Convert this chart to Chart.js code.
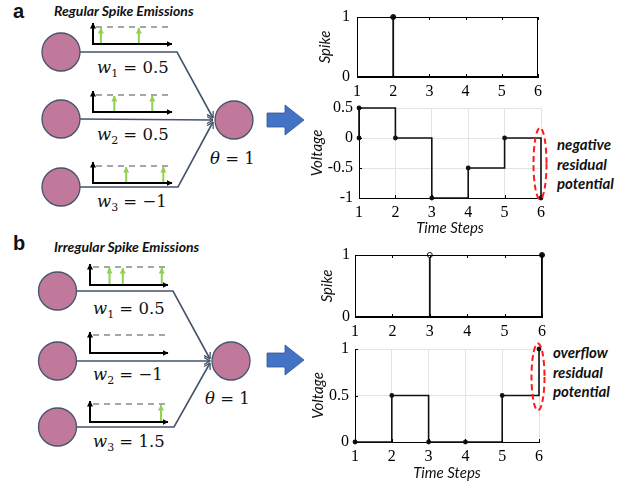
<!DOCTYPE html>
<html><head><meta charset="utf-8">
<script src="https://cdn.jsdelivr.net/npm/chart.js@4.4.1/dist/chart.umd.min.js"></script>
<style>
html,body{margin:0;padding:0;background:#fff;}
#root{position:relative;width:635px;height:487px;overflow:hidden;background:#fff;}
canvas{position:absolute;}
svg{position:absolute;left:0;top:0;}
.note{position:absolute;font-family:Lato,sans-serif;font-weight:bold;font-style:italic;font-size:15px;line-height:19.5px;color:#111;white-space:nowrap;}
.ttl{position:absolute;font-family:Lato,sans-serif;font-weight:bold;font-style:italic;font-size:14px;color:#111;white-space:nowrap;}
.pl{position:absolute;font-family:"Liberation Sans",sans-serif;font-weight:bold;font-size:20px;color:#111;}
</style></head>
<body><div id="root">
<svg id="diag" width="635" height="487" xmlns="http://www.w3.org/2000/svg"></svg>
<div class="pl" style="left:13px;top:0px;">a</div>
<div class="pl" style="left:13px;top:232px;">b</div>
<div class="ttl" style="left:54px;top:2px;">Regular Spike Emissions</div>
<div class="ttl" style="left:54px;top:238px;">Irregular Spike Emissions</div>
<div class="note" style="left:557px;top:135px;">negative<br>residual<br>potential</div>
<div class="note" style="left:553px;top:343px;">overflow<br>residual<br>potential</div>
<canvas id="cA1"></canvas>
<canvas id="cA2"></canvas>
<canvas id="cB1"></canvas>
<canvas id="cB2"></canvas>
</div>
<script>
// ---------------- data ----------------
const timeSteps   = [1, 2, 3, 4, 5, 6];
const spikeOutA   = [0, 1, 0, 0, 0, 0];
const spikeOutB   = [0, 0, 1, 0, 0, 1];
const spikeHollowB = [false, false, true, false, false, false];
const voltA_t     = [1, 1, 2, 3, 4, 5, 6];
const voltA_v     = [0, 0.5, 0, -1, -0.5, 0, -1];
const voltB_t     = [1, 2, 3, 4, 5, 6];
const voltB_v     = [0, 0.5, 0, 0, 0.5, 1];
const voltRangeA  = [-1, 0.5];
const voltRangeB  = [0, 1];
const residualA   = [-1.02, 0.17];   // span of the highlighted residual (voltage units)
const residualB   = [0.34, 1.06];
const weightsA    = ['0.5', '0.5', '\u22121'];
const weightsB    = ['0.5', '\u22121', '1.5'];
const thetaA = '1', thetaB = '1';
// input spike trains (fraction of icon time axis)
const inputSpikesA = [[0.10, 0.58], [0.27, 0.75], [0.42, 0.89]];
const inputSpikesB = [[0.25, 0.42, 0.92], [], [0.91]];

// ---------------- diagram (SVG) ----------------
const NS = 'http://www.w3.org/2000/svg';
const svg = document.getElementById('diag');
function el(tag, attrs, parent) {
  const e = document.createElementNS(NS, tag);
  for (const k in attrs) e.setAttribute(k, attrs[k]);
  (parent || svg).appendChild(e);
  return e;
}
const defs = el('defs', {});
function marker(id, color, w, h, filled) {
  const m = el('marker', {id, markerWidth: w, markerHeight: h, refX: w - 0.5, refY: h / 2, orient: 'auto', markerUnits: 'userSpaceOnUse'}, defs);
  if (filled) el('path', {d: `M0,0 L${w},${h/2} L0,${h} Z`, fill: color}, m);
  else el('path', {d: `M0.5,0.5 L${w-0.5},${h/2} L0.5,${h-0.5}`, fill: 'none', stroke: color, 'stroke-width': 1.3}, m);
}
marker('mBlack', '#000', 6, 6, true);
marker('mGreen', '#92D050', 6, 6, true);
marker('mSlate', '#44546A', 7, 8, false);

function panel(P) {
  const conv = P.conv;
  P.ins.forEach((c, i) => {
    let d;
    if (i === 0) d = `M${c[0]+P.r},${c[1]} L${P.bendTop},${c[1]} L${conv[0]},${conv[1]-2}`;
    else if (i === 1) d = `M${c[0]+P.r},${c[1]} L${conv[0]},${conv[1]}`;
    else d = `M${c[0]+P.r},${c[1]} L${P.bendBot},${c[1]} L${conv[0]},${conv[1]+2}`;
    el('path', {d, fill: 'none', stroke: '#44546A', 'stroke-width': 1.6, 'marker-end': 'url(#mSlate)'});
  });
  [...P.ins, P.out].forEach(c => el('circle', {cx: c[0], cy: c[1], r: P.r, fill: '#C0789B', stroke: '#44546A', 'stroke-width': 1.3}));
  P.icons.forEach((o, i) => {
    const [ox, oy] = o;
    el('line', {x1: ox + 3, y1: oy - P.dash, x2: ox + P.iw + 1, y2: oy - P.dash, stroke: '#A6A6A6', 'stroke-width': 2, 'stroke-dasharray': '6,5'});
    el('line', {x1: ox, y1: oy + 1, x2: ox, y2: oy - 21, stroke: '#000', 'stroke-width': 2, 'marker-end': 'url(#mBlack)'});
    el('line', {x1: ox - 1, y1: oy, x2: ox + P.iw, y2: oy, stroke: '#000', 'stroke-width': 2, 'marker-end': 'url(#mBlack)'});
    P.spikes[i].forEach(f => {
      const x = ox + f * P.iw;
      el('line', {x1: x, y1: oy - 1, x2: x, y2: oy - P.dash + 1, stroke: '#92D050', 'stroke-width': 2, 'marker-end': 'url(#mGreen)'});
    });
  });
  P.weights.forEach((w, i) => {
    const t = el('text', {x: P.lblX, y: P.lblY[i], 'font-family': 'DejaVu Serif', 'font-size': 16.5, fill: '#111'});
    const a = el('tspan', {'font-style': 'italic'}, t); a.textContent = 'w';
    const s = el('tspan', {'font-size': 11, dy: 4}, t); s.textContent = String(i + 1);
    const r = el('tspan', {dy: -4}, t); r.textContent = ' = ' + w;
  });
  const th = el('text', {x: P.thX, y: P.thY, 'font-family': 'DejaVu Serif', 'font-size': 16.5, fill: '#111'});
  const ta = el('tspan', {'font-style': 'italic'}, th); ta.textContent = '\u03b8';
  const tb = el('tspan', {}, th); tb.textContent = ' = ' + P.theta;
  const [ax, ay] = P.arrow;
  el('path', {d: `M${ax},${ay-7} L${ax+18},${ay-7} L${ax+18},${ay-15} L${ax+37},${ay} L${ax+18},${ay+15} L${ax+18},${ay+7} L${ax},${ay+7} Z`, fill: '#4472C4', stroke: '#2F5597', 'stroke-width': 0.8});
}

panel({
  ins: [[61, 52], [61, 119], [61, 187]], out: [234, 120], r: 19,
  conv: [213, 120], bendTop: 177, bendBot: 178,
  icons: [[93, 44], [93, 112], [93, 183]], iw: 79, dash: 17, spikes: inputSpikesA,
  weights: weightsA, lblX: 97, lblY: [73, 140, 207], thX: 210, thY: 164, theta: thetaA,
  arrow: [267, 120]
});
panel({
  ins: [[57.5, 291], [57.5, 361], [57.5, 427]], out: [231, 361], r: 19,
  conv: [210, 361], bendTop: 173, bendBot: 174,
  icons: [[90, 285], [90, 353], [90, 422]], iw: 78, dash: 18, spikes: inputSpikesB,
  weights: weightsB, lblX: 93, lblY: [314, 380, 447], thX: 205, thY: 404, theta: thetaB,
  arrow: [267, 360]
});

// ---------------- charts ----------------
const tickFont = {family: '"Liberation Serif", "Times New Roman", serif', size: 16};
const axisTitleFont = {family: 'Lato', size: 15, style: 'italic'};

const boxPlugin = {
  id: 'boxFrame',
  afterDraw(chart, args, opts) {
    const {ctx, chartArea: a, scales} = chart;
    ctx.save();
    ctx.strokeStyle = '#000';
    ctx.lineWidth = 1;
    if (opts.full) ctx.strokeRect(a.left + 0.5, a.top + 0.5, a.right - a.left - 1, a.bottom - a.top - 1);
    ctx.beginPath();
    scales.x.ticks.forEach(t => {
      const px = Math.round(scales.x.getPixelForValue(t.value)) + 0.5;
      ctx.moveTo(px, a.bottom); ctx.lineTo(px, a.bottom - 3);
      if (opts.full) { ctx.moveTo(px, a.top); ctx.lineTo(px, a.top + 3); }
    });
    scales.y.ticks.forEach(t => {
      const py = Math.round(scales.y.getPixelForValue(t.value)) + 0.5;
      ctx.moveTo(a.left, py); ctx.lineTo(a.left + 3, py);
      if (opts.full) { ctx.moveTo(a.right, py); ctx.lineTo(a.right - 3, py); }
    });
    ctx.stroke();
    if (opts.ellipse) {
      const [lo, hi] = opts.ellipse;
      const cx = scales.x.getPixelForValue(6) - 1;
      const y1 = scales.y.getPixelForValue(hi), y2 = scales.y.getPixelForValue(lo);
      ctx.beginPath();
      ctx.setLineDash([6, 3.5]);
      ctx.strokeStyle = '#FF1A1A';
      ctx.lineWidth = 2;
      ctx.ellipse(cx, (y1 + y2) / 2, 6.5, Math.abs(y2 - y1) / 2, 0, 0, Math.PI * 2);
      ctx.stroke();
    }
    ctx.restore();
  }
};

function makeChart(id, box, plot, opt) {
  const cv = document.getElementById(id);
  cv.width = box.w; cv.height = box.h;
  cv.style.left = box.l + 'px'; cv.style.top = box.t + 'px';
  cv.style.width = box.w + 'px'; cv.style.height = box.h + 'px';
  const yW = plot.l - box.l, xH = box.t + box.h - plot.b;
  return new Chart(cv, {
    type: 'scatter',
    data: {datasets: opt.datasets},
    plugins: [boxPlugin],
    options: {
      responsive: false, animation: false, devicePixelRatio: 1,
      layout: {padding: {left: 0, top: plot.t - box.t, right: box.l + box.w - plot.r, bottom: 0}},
      plugins: {legend: {display: false}, tooltip: {enabled: false}, boxFrame: {full: opt.full, ellipse: opt.ellipse}},
      scales: {
        x: {
          type: 'linear', min: 1, max: 6,
          ticks: {stepSize: 1, padding: opt.xPad, font: tickFont, color: '#000', maxRotation: 0},
          grid: {display: opt.grid, color: '#E3E3E3', drawTicks: false},
          border: {display: true, color: '#000', width: 1},
          title: {display: !!opt.xTitle, text: opt.xTitle || '', font: axisTitleFont, color: '#111', padding: {top: 0, bottom: opt.xTitlePad || 0}},
          afterFit: s => { s.height = xH; s.paddingLeft = 0; s.paddingRight = 0; }
        },
        y: {
          type: 'linear', min: opt.yRange[0], max: opt.yRange[1],
          ticks: {stepSize: opt.yStep, padding: opt.yPad, font: tickFont, color: '#000', callback: v => String(v)},
          grid: {display: opt.grid, color: '#E3E3E3', drawTicks: false},
          border: {display: true, color: '#000', width: 1},
          title: {display: true, text: opt.yTitle, font: axisTitleFont, color: '#111', padding: {top: opt.yTitlePad, bottom: 0}},
          afterFit: s => { s.width = yW; s.paddingTop = 0; s.paddingBottom = 0; }
        }
      }
    }
  });
}

function stemSets(values, hollow) {
  const sets = [];
  values.forEach((v, i) => {
    if (!v) return;
    const t = timeSteps[i];
    sets.push({
      data: [{x: t, y: 0}, {x: t, y: v}],
      showLine: true, borderColor: '#111', borderWidth: 1.8,
      pointRadius: [0, 2.5], pointBorderColor: '#111', pointBorderWidth: 1,
      pointBackgroundColor: hollow && hollow[i] ? '#fff' : '#111',
      clip: false
    });
  });
  return sets;
}
function stepSet(ts, vs) {
  return [{
    data: ts.map((t, i) => ({x: t, y: vs[i]})),
    showLine: true, stepped: 'before', borderColor: '#111', borderWidth: 1.6,
    pointRadius: 2.4, pointBackgroundColor: '#111', pointBorderColor: '#111', pointBorderWidth: 0,
    clip: false
  }];
}

makeChart('cA1', {l: 305, t: 8, w: 250, h: 100}, {l: 357, t: 17, r: 538, b: 77}, {
  datasets: stemSets(spikeOutA), full: true, grid: false,
  yRange: [0, 1], yStep: 1, yTitle: 'Spike', yTitlePad: 11, xPad: 5, yPad: 7
});
makeChart('cA2', {l: 300, t: 98, w: 255, h: 140}, {l: 359, t: 108, r: 541, b: 198}, {
  datasets: stepSet(voltA_t, voltA_v), full: false, grid: true, ellipse: residualA,
  yRange: voltRangeA, yStep: 0.5, yTitle: 'Voltage', yTitlePad: 8, xPad: 5, yPad: 6,
  xTitle: 'Time Steps', xTitlePad: 1
});
makeChart('cB1', {l: 305, t: 245, w: 250, h: 100}, {l: 355, t: 255, r: 542, b: 317}, {
  datasets: stemSets(spikeOutB, spikeHollowB), full: true, grid: false,
  yRange: [0, 1], yStep: 1, yTitle: 'Spike', yTitlePad: 13, xPad: 5, yPad: 5
});
makeChart('cB2', {l: 300, t: 339, w: 255, h: 145}, {l: 355, t: 349, r: 539, b: 442}, {
  datasets: stepSet(voltB_t, voltB_v), full: false, grid: true, ellipse: residualB,
  yRange: voltRangeB, yStep: 0.5, yTitle: 'Voltage', yTitlePad: 9, xPad: 5, yPad: 6,
  xTitle: 'Time Steps', xTitlePad: 2
});
</script>
</body></html>
